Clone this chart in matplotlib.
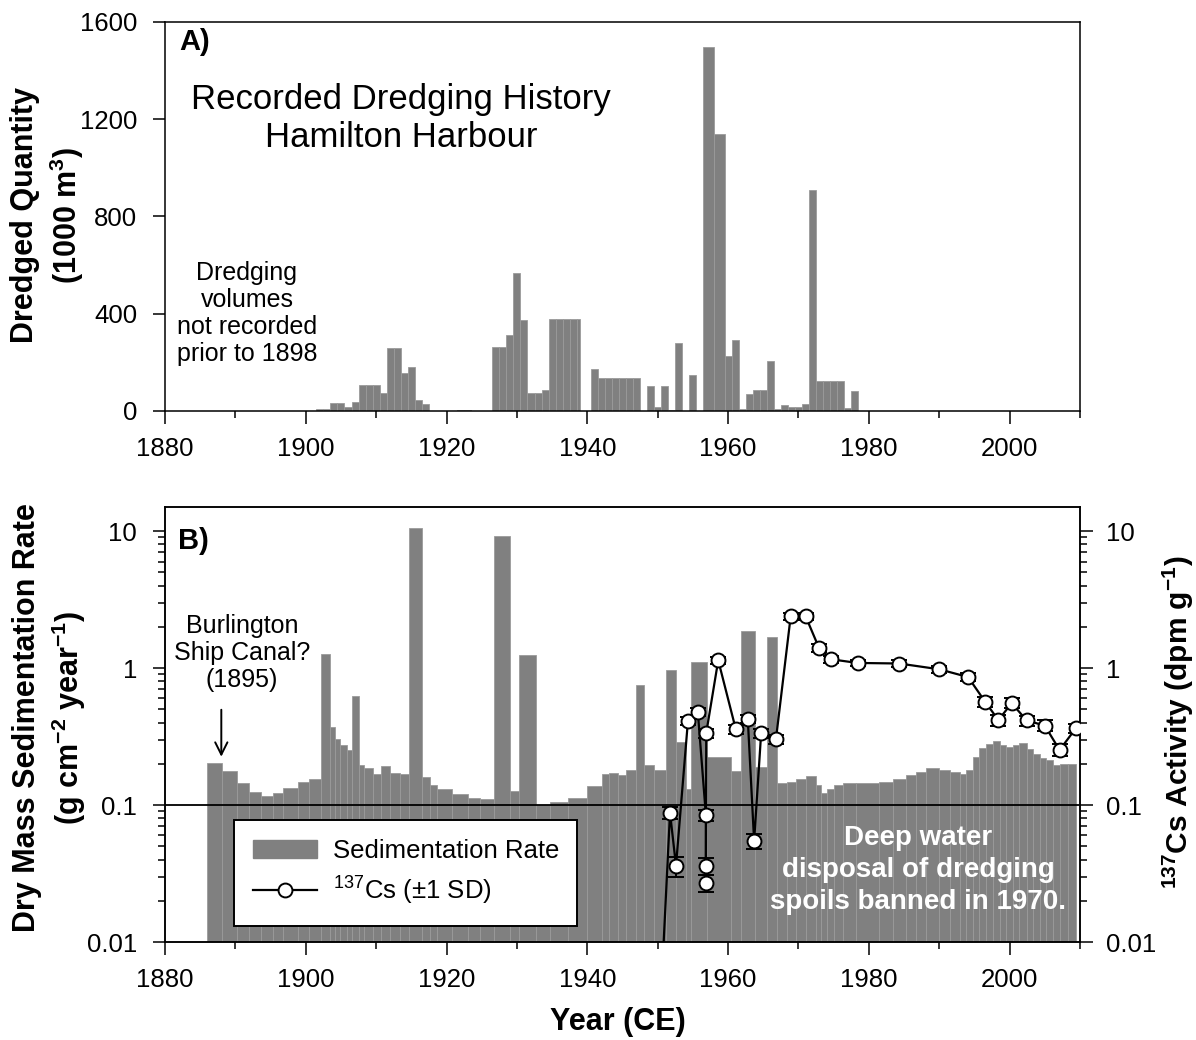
import numpy as np
import matplotlib
matplotlib.use("Agg")
import matplotlib.pyplot as plt
from matplotlib.patches import Patch
from matplotlib.lines import Line2D
from matplotlib.ticker import MultipleLocator, LogLocator, NullFormatter, FixedLocator, FixedFormatter

plt.rcParams['font.family'] = ['Liberation Sans', 'DejaVu Sans']
plt.rcParams['mathtext.default'] = 'regular'

# ---- Panel A: recorded dredging per period (1000 m3)
dredge_start = [1901.5, 1902.5, 1903.5, 1904.5, 1905.5, 1906.5, 1907.5, 1908.5, 1909.5, 1910.5,
                1911.5, 1912.5, 1913.5, 1914.5, 1915.5, 1916.5, 1921.5, 1922.5, 1926.5, 1927.5,
                1928.5, 1929.5, 1930.5, 1931.5, 1932.5, 1933.5, 1934.5, 1935.5, 1936.5, 1937.5,
                1938.5, 1940.5, 1941.5, 1942.5, 1943.5, 1944.5, 1945.5, 1946.5, 1948.5, 1949.5,
                1950.5, 1951.5, 1952.5, 1954.5, 1956.5, 1958.0, 1959.5, 1960.5, 1961.5, 1962.5,
                1963.5, 1964.5, 1965.5, 1966.5, 1967.5, 1968.5, 1969.5, 1970.5, 1971.5, 1972.5,
                1973.5, 1974.5, 1975.5, 1976.5, 1977.5]
dredge_end = [1902.5, 1903.5, 1904.5, 1905.5, 1906.5, 1907.5, 1908.5, 1909.5, 1910.5, 1911.5,
              1912.5, 1913.5, 1914.5, 1915.5, 1916.5, 1917.5, 1922.5, 1923.5, 1927.5, 1928.5,
              1929.5, 1930.5, 1931.5, 1932.5, 1933.5, 1934.5, 1935.5, 1936.5, 1937.5, 1938.5,
              1939.0, 1941.5, 1942.5, 1943.5, 1944.5, 1945.5, 1946.5, 1947.5, 1949.5, 1950.5,
              1951.5, 1952.5, 1953.5, 1955.5, 1958.0, 1959.5, 1960.5, 1961.5, 1962.5, 1963.5,
              1964.5, 1965.5, 1966.5, 1967.5, 1968.5, 1969.5, 1970.5, 1971.5, 1972.5, 1973.5,
              1974.5, 1975.5, 1976.5, 1977.5, 1978.5]
dredge_volume = [10, 10, 33, 33, 16, 36, 106, 106, 106, 74,
                 258, 258, 157, 180, 45, 27, 6, 6, 262, 262,
                 312, 567, 376, 74, 74, 86, 378, 378, 378, 378,
                 378, 174, 137, 137, 137, 137, 137, 137, 103, 18,
                 103, 5, 281, 147, 1496, 1140, 227, 292, 10, 71,
                 86, 86, 205, 10, 23, 15, 15, 30, 909, 122,
                 122, 122, 122, 14, 82]

# ---- Panel B: core sedimentation rate (interval edges in years CE)
sed_edges = [1886.0, 1888.1, 1890.3, 1891.9, 1893.6, 1895.3, 1896.8, 1898.9, 1900.5, 1902.1,
             1903.4, 1904.2, 1904.8, 1905.8, 1906.6, 1907.5, 1908.3, 1909.5, 1910.7, 1911.9,
             1913.4, 1914.6, 1916.5, 1917.6, 1918.7, 1920.8, 1923.1, 1924.8, 1926.7, 1929.0,
             1930.3, 1932.7, 1934.7, 1937.2, 1939.9, 1942.1, 1943.1, 1944.3, 1945.5, 1946.9,
             1948.1, 1949.5, 1951.2, 1952.6, 1954.0, 1954.7, 1957.0, 1960.4, 1961.8, 1963.8,
             1965.5, 1967.0, 1968.4, 1969.6, 1971.0, 1972.5, 1973.2, 1974.1, 1975.1, 1976.3,
             1978.2, 1981.5, 1983.4, 1985.3, 1986.7, 1988.1, 1990.0, 1991.5, 1992.9, 1993.8,
             1994.8, 1995.7, 1996.7, 1997.6, 1998.6, 1999.5, 2000.5, 2001.4, 2002.4, 2003.3,
             2004.3, 2005.2, 2006.2, 2007.1, 2008.3, 2009.5]
sed_rate = [0.203, 0.176, 0.144, 0.124, 0.115, 0.122, 0.133, 0.147, 0.154,
            1.26, 0.373, 0.305, 0.274, 0.25, 0.62, 0.196, 0.185, 0.167, 0.192,
            0.171, 0.167, 10.5, 0.160, 0.139, 0.129, 0.119, 0.112, 0.109, 9.2,
            0.126, 1.25, 0.099, 0.104, 0.111, 0.136, 0.167, 0.171, 0.164, 0.178,
            0.755, 0.194, 0.180, 0.966, 0.290, 0.129, 1.10, 0.223, 0.176, 1.87,
            0.19, 1.69, 0.143, 0.147, 0.155, 0.161, 0.139, 0.121, 0.131, 0.139,
            0.144, 0.143, 0.147, 0.155, 0.164, 0.173, 0.185, 0.180, 0.173, 0.167,
            0.18, 0.223, 0.261, 0.279, 0.292, 0.275, 0.264, 0.272, 0.284, 0.256,
            0.233, 0.220, 0.211, 0.194, 0.199, 0.197]

# ---- 137Cs activity (dpm/g) with 1 SD
cs_year = [1950.5, 1951.75, 1952.6, 1954.3, 1955.7, 1956.85, 1956.85, 1956.85, 1956.9, 1958.6,
           1961.1, 1962.8, 1963.7, 1964.7, 1966.8, 1968.9, 1971.0, 1972.9, 1974.6, 1978.4,
           1984.3, 1990.0, 1994.1, 1996.5, 1998.4, 2000.3, 2002.4, 2005.0, 2007.1, 2009.4]
cs_act = [0.0043, 0.088, 0.036, 0.413, 0.48, 0.084, 0.036, 0.027, 0.336, 1.14,
          0.357, 0.425, 0.0545, 0.336, 0.302, 2.40, 2.40, 1.41, 1.16, 1.09,
          1.08, 0.98, 0.86, 0.57, 0.417, 0.555, 0.415, 0.38, 0.252, 0.363]
cs_sd = [0.001, 0.009, 0.006, 0.03, 0.03, 0.008, 0.005, 0.004, 0.025, 0.07,
         0.025, 0.03, 0.007, 0.025, 0.022, 0.14, 0.14, 0.09, 0.07, 0.06,
         0.06, 0.06, 0.06, 0.05, 0.04, 0.045, 0.035, 0.035, 0.025, 0.03]

BAR = '#808080'
EDGE = '#9a9a9a'
W, H = 1196, 1040

fig = plt.figure(figsize=(W / 100, H / 100), dpi=100)
ax1 = fig.add_axes([165 / W, 1 - 411 / H, 915 / W, 389 / H])
ax2 = fig.add_axes([165 / W, 1 - 942 / H, 915 / W, 435 / H])

# ---------------- Panel A
left = np.array(dredge_start)
width = np.array(dredge_end) - left
ax1.bar(left, dredge_volume, width=width, align='edge', color=BAR, edgecolor=EDGE, linewidth=0.6)
ax1.set_xlim(1880, 2010)
ax1.set_ylim(0, 1600)
ax1.xaxis.set_major_locator(FixedLocator(range(1880, 2001, 20)))
ax1.xaxis.set_minor_locator(MultipleLocator(10))
ax1.yaxis.set_major_locator(MultipleLocator(400))
ax1.tick_params(which='major', direction='out', length=9, width=1.1, labelsize=18.5)
ax1.tick_params(which='minor', direction='out', length=5, width=1.1)
ax1.tick_params(axis='x', pad=10)
ax1.tick_params(axis='y', pad=11)
for sp in ax1.spines.values():
    sp.set_linewidth(1.1)

ax1.text(0.016, 0.985, 'A)', transform=ax1.transAxes, ha='left', va='top',
         fontsize=21, fontweight='bold')
ax1.text(0.258, 0.80, 'Recorded Dredging History', transform=ax1.transAxes,
         ha='center', va='center', fontsize=25)
ax1.text(0.258, 0.702, 'Hamilton Harbour', transform=ax1.transAxes,
         ha='center', va='center', fontsize=25)
ax1.text(0.0896, 0.2506, 'Dredging\nvolumes\nnot recorded\nprior to 1898',
         transform=ax1.transAxes, ha='center', va='center', fontsize=18, linespacing=1.15)

# ---------------- Panel B
edges = np.array(sed_edges)
ax2.bar(edges[:-1], sed_rate, width=np.diff(edges), align='edge', bottom=1e-3,
        color=BAR, edgecolor=EDGE, linewidth=0.6)
ax2.set_yscale('log')
ax2.set_ylim(0.01, 15)
ax2.set_xlim(1880, 2010)
ax2.axhline(0.1, color='black', linewidth=1.3, zorder=3)

axr = ax2.twinx()
axr.set_yscale('log')
axr.set_ylim(0.01, 15)
axr.errorbar(cs_year, cs_act, yerr=cs_sd, color='black', linewidth=1.6,
             marker='o', markersize=10, markerfacecolor='white', markeredgecolor='black',
             markeredgewidth=1.4, ecolor='black', elinewidth=1.4, capsize=6, capthick=1.4,
             zorder=5)

for a in (ax2, axr):
    a.yaxis.set_major_locator(FixedLocator([0.01, 0.1, 1, 10]))
    a.yaxis.set_major_formatter(FixedFormatter(['0.01', '0.1', '1', '10']))
    a.yaxis.set_minor_locator(LogLocator(base=10, subs=np.arange(2, 10), numticks=20))
    a.yaxis.set_minor_formatter(NullFormatter())
    a.tick_params(which='major', direction='out', length=9, width=1.1, labelsize=18.5)
    a.tick_params(which='minor', direction='out', length=5, width=1.1)
    for sp in a.spines.values():
        sp.set_linewidth(1.1)
ax2.tick_params(axis='y', pad=11)
axr.tick_params(axis='y', pad=10)
ax2.xaxis.set_major_locator(FixedLocator(range(1880, 2001, 20)))
ax2.xaxis.set_minor_locator(MultipleLocator(10))
ax2.tick_params(axis='x', pad=10)

ax2.text(0.014, 0.955, 'B)', transform=ax2.transAxes, ha='left', va='top',
         fontsize=21, fontweight='bold')
ax2.text(0.084, 0.664, 'Burlington\nShip Canal?\n(1895)', transform=ax2.transAxes,
         ha='center', va='center', fontsize=18, linespacing=1.15)
ax2.annotate('', xy=(1888, 0.215), xytext=(1888, 0.52),
             arrowprops=dict(arrowstyle='->', color='black', lw=1.4, mutation_scale=22))
ax2.text(0.823, 0.1655, 'Deep water\ndisposal of dredging\nspoils banned in 1970.',
         transform=ax2.transAxes, ha='center', va='center', fontsize=20,
         fontweight='bold', color='white', linespacing=1.28, zorder=6)

handles = [Patch(facecolor=BAR, edgecolor=BAR),
           Line2D([], [], color='black', linewidth=1.6, marker='o', markersize=10,
                  markerfacecolor='white', markeredgecolor='black', markeredgewidth=1.4)]
labels = ['Sedimentation Rate', '$^{137}$Cs (\u00b11 SD)']
leg = axr.legend(handles, labels, loc='lower left', bbox_to_anchor=(0.0754, 0.0368, 0.375, 0.241),
                 mode='expand', borderaxespad=0, fancybox=False, framealpha=1,
                 edgecolor='black', fontsize=18.5, handlelength=2.5, handletextpad=0.6,
                 borderpad=0.75, labelspacing=0.45)
leg.get_frame().set_linewidth(1.4)

# ---------------- axis labels
fig.text(25 / W, 1 - 215 / H, 'Dredged Quantity', rotation=90, ha='center', va='center',
         fontsize=22, fontweight='bold')
fig.text(67 / W, 1 - 215 / H, '(1000 m$^3$)', rotation=90, ha='center', va='center',
         fontsize=22, fontweight='bold')
fig.text(27 / W, 1 - 718 / H, 'Dry Mass Sedimentation Rate', rotation=90, ha='center',
         va='center', fontsize=22, fontweight='bold')
fig.text(69 / W, 1 - 718 / H, '(g cm$^{-2}$ year$^{-1}$)', rotation=90, ha='center',
         va='center', fontsize=22, fontweight='bold')
fig.text(1178 / W, 1 - 722 / H, '$^{137}$Cs Activity (dpm g$^{-1}$)', rotation=90,
         ha='center', va='center', fontsize=21.5, fontweight='bold')
fig.text(618 / W, 1 - 1022 / H, 'Year (CE)', ha='center', va='center',
         fontsize=22, fontweight='bold')

fig.savefig('out.png', dpi=100, facecolor='white')
